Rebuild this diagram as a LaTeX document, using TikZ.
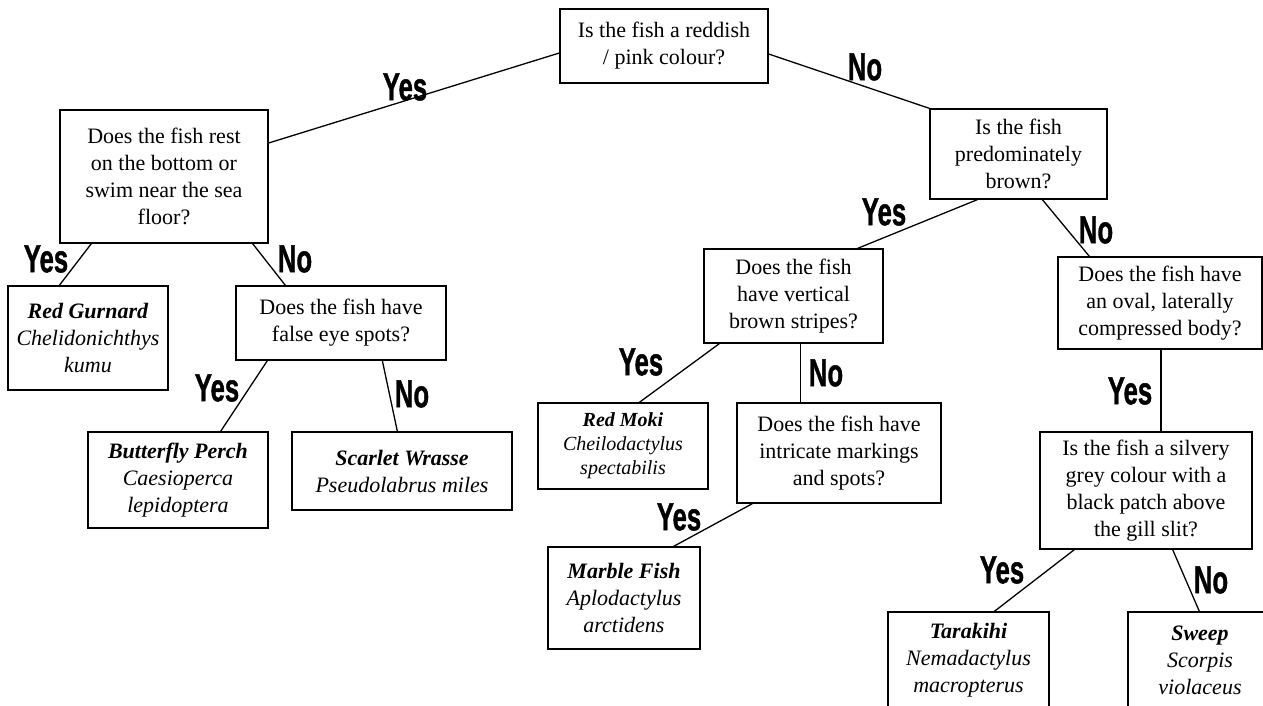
\documentclass[tikz,border=0pt]{standalone}
\usepackage{fontspec}
\setmainfont{Liberation Serif}
\newfontfamily\ynfont[BoldFeatures={FakeBold=1.3}]{Liberation Sans}
\usetikzlibrary{positioning}

\newcommand{\yn}[1]{\scalebox{0.66}[1]{\ynfont\bfseries\fontsize{39}{39}\selectfont #1}}
\newcommand{\fish}[1]{\textbf{\textit{#1}}}

\begin{document}
\begin{tikzpicture}[x=1pt,y=-1pt,
    qbox/.style={draw, line width=1.3pt, align=center, inner sep=0pt,
      font=\fontsize{22}{27}\selectfont},
    branch/.style={line width=1.3pt},
    yesno/.style={inner sep=0pt}]
  \useasboundingbox (0,0) rectangle (1263,706);
  \clip (0,0) rectangle (1263,706);

  % questions
  \node[qbox, minimum width=208pt, minimum height=74pt] (root) at (664,46) {Is the fish a reddish\\/ pink colour?};
  \node[qbox, minimum width=208pt, minimum height=133pt] (bottom) at (164,176.5) {Does the fish rest\\on the bottom or\\swim near the sea\\floor?};
  \node[qbox, minimum width=177pt, minimum height=90pt] (brown) at (1018.5,154) {Is the fish\\predominately\\brown?};
  \node[qbox, minimum width=210pt, minimum height=74pt] (eyes) at (341,323) {Does the fish have\\false eye spots?};
  \node[qbox, minimum width=179pt, minimum height=94pt] (stripes) at (793.5,296) {Does the fish\\have vertical\\brown stripes?};
  \node[qbox, minimum width=204pt, minimum height=100pt] (spots) at (839,453) {Does the fish have\\intricate markings\\and spots?};
  \node[qbox, minimum width=204pt, minimum height=92pt] (oval) at (1160,303) {Does the fish have\\an oval, laterally\\compressed body?};
  \node[qbox, minimum width=212pt, minimum height=117pt] (silver) at (1146,490.5) {Is the fish a silvery\\grey colour with a\\black patch above\\the gill slit?};

  % fish
  \node[qbox, minimum width=160pt, minimum height=104pt] (gurnard) at (88,338) {\fish{Red Gurnard}\\\textit{Chelidonichthys}\\\textit{kumu}};
  \node[qbox, minimum width=180pt, minimum height=96pt] (perch) at (178,480) {\fish{Butterfly Perch}\\\textit{Caesioperca}\\\textit{lepidoptera}};
  \node[qbox, minimum width=220pt, minimum height=78pt] (wrasse) at (402,471) {\fish{Scarlet Wrasse}\\\textit{Pseudolabrus miles}};
  \node[qbox, minimum width=170pt, minimum height=86pt, font=\fontsize{20}{24}\selectfont] (moki) at (623,446) {\fish{Red Moki}\\\textit{Cheilodactylus}\\\textit{spectabilis}};
  \node[qbox, minimum width=152pt, minimum height=102pt] (marble) at (624,598) {\fish{Marble Fish}\\\textit{Aplodactylus}\\\textit{arctidens}};
  \node[qbox, minimum width=161pt, minimum height=96pt] (tarakihi) at (968.5,660) {\fish{Tarakihi}\\\textit{Nemadactylus}\\\textit{macropterus}};
  \node[qbox, minimum width=144pt, minimum height=96pt] (sweep) at (1200,660) {\fish{Sweep}\\\textit{Scorpis}\\\textit{violaceus}};

  % branches
  \draw[branch] ([yshift=-7pt]root.west) -- ([yshift=33.5pt]bottom.east);
  \draw[branch] ([yshift=-8pt]root.east) -- (brown.north west);
  \draw[branch] ([xshift=32pt]bottom.south west) -- ([xshift=52pt]gurnard.north west);
  \draw[branch] ([xshift=-16pt]bottom.south east) -- ([xshift=50pt]eyes.north west);
  \draw[branch] ([xshift=32pt]eyes.south west) -- ([xshift=-48pt]perch.north east);
  \draw[branch] ([xshift=147pt]eyes.south west) -- ([xshift=106pt]wrasse.north west);
  \draw[branch] ([xshift=48pt]brown.south west) -- ([xshift=-26pt]stripes.north east);
  \draw[branch] ([xshift=113pt]brown.south west) -- ([xshift=32pt]oval.north west);
  \draw[branch] ([xshift=16pt]stripes.south west) -- ([xshift=102pt]moki.north west);
  \draw[branch] ([xshift=64pt]spots.north west |- stripes.south) -- ([xshift=64pt]spots.north west);
  \draw[branch] ([xshift=16pt]spots.south west) -- ([xshift=-27pt]marble.north east);
  \draw[branch] ([xshift=15pt]silver.north |- oval.south) -- ([xshift=15pt]silver.north);
  \draw[branch] ([xshift=35pt]silver.south west) -- ([xshift=107pt]tarakihi.north west);
  \draw[branch] ([xshift=-80pt]silver.south east) -- ([xshift=72pt]sweep.north west);

  % yes / no
  \foreach \x/\y/\t [count=\i] in {405/87/Yes, 865/67/No, 46/259/Yes, 295/259/No,
      217/388/Yes, 412/394/No, 884/212/Yes, 1096/230/No, 641/362/Yes,
      826/373/No, 679/517/Yes, 1130/391/Yes, 1002/570/Yes, 1211/580/No} {
    \node[yesno] (yn\i) at (\x,\y) {\yn{\t}};
  }
\end{tikzpicture}
\end{document}
